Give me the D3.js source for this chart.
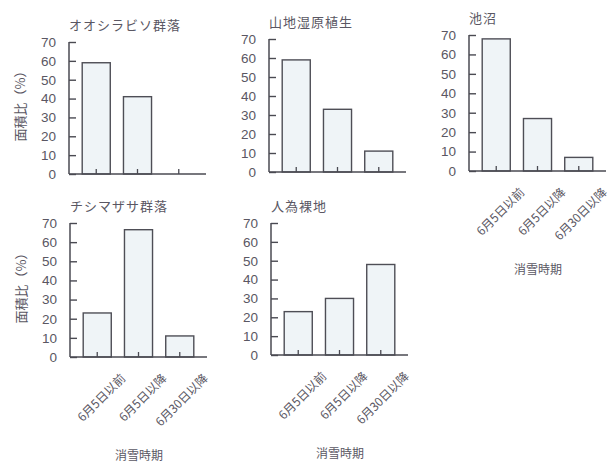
<!DOCTYPE html>
<html>
<head>
<meta charset="utf-8">
<script src="https://cdn.jsdelivr.net/npm/d3@7"></script>
<style>
  html, body { margin: 0; padding: 0; background: #fff; }
  svg { display: block; }
</style>
</head>
<body>
<svg id="chart" width="612" height="464"></svg>
<script>
// Snow-melt timing categories (x axis)
const categories = ["6月5日以前", "6月5日以降", "6月30日以降"];
// Vegetation types, one small panel each
const titles = ["オオシラビソ群落", "山地湿原植生", "池沼", "チシマザサ群落", "人為裸地"];
// Area ratio (%) per panel, in category order
const valuesOshirabiso = [59, 41, 0];
const valuesMoor = [59, 33, 11];
const valuesPond = [68, 27, 7];
const valuesSasa = [23, 66.5, 11];
const valuesBare = [23, 30, 48];
const seriesValues = [valuesOshirabiso, valuesMoor, valuesPond, valuesSasa, valuesBare];
const yTicks = [0, 10, 20, 30, 40, 50, 60, 70];
const yLabel = "面積比（%）";
const xLabel = "消雪時期";

// Panel placement: left axis x, zero line y, top (70) y, and which labels appear
const layout = [
  { x: 69,  y0: 174, y1: 42,  yTitle: true,  xTicks: false },
  { x: 269, y0: 172, y1: 39,  yTitle: false, xTicks: false },
  { x: 469, y0: 171, y1: 35,  yTitle: false, xTicks: true  },
  { x: 70,  y0: 357, y1: 223, yTitle: true,  xTicks: true  },
  { x: 271, y0: 355, y1: 223, yTitle: false, xTicks: true  }
];

const svg = d3.select("#chart");
const textColor = "#5a5763";
const axisColor = "#4a4a52";
const jpFont = "'Noto Sans CJK JP', 'Noto Sans', sans-serif";
const numFont = "'Liberation Sans', Arial, sans-serif";
const plotWidth = 137;

titles.forEach((title, i) => {
  const L = layout[i];
  const vals = seriesValues[i];
  const g = svg.append("g");

  const x = d3.scaleBand()
    .domain(categories)
    .range([L.x, L.x + plotWidth])
    .paddingInner(0.32)
    .paddingOuter(0.32);
  const y = d3.scaleLinear().domain([0, 70]).range([L.y0, L.y1]);

  // Bars
  g.selectAll("rect.bar")
    .data(categories.map((c, k) => ({ c, v: vals[k] })))
    .enter().append("rect")
    .attr("class", "bar")
    .attr("x", d => x(d.c))
    .attr("width", x.bandwidth())
    .attr("y", d => y(d.v))
    .attr("height", d => y(0) - y(d.v))
    .attr("fill", "#eff4f7")
    .attr("stroke", d => d.v > 0 ? "#4e4e56" : "none")
    .attr("stroke-width", 1.4);

  // Y axis with inward ticks
  const yAxis = d3.axisLeft(y)
    .tickValues(yTicks)
    .tickSize(-7)
    .tickPadding(13)
    .tickFormat(d3.format("d"));
  const ya = g.append("g")
    .attr("transform", `translate(${L.x},0)`)
    .call(yAxis);
  ya.select(".domain").attr("stroke", axisColor).attr("stroke-width", 1.5)
    .attr("d", `M0,${y(70)}V${y(0)}`);
  ya.selectAll(".tick line").attr("stroke", axisColor).attr("stroke-width", 1.4);
  ya.selectAll(".tick text")
    .attr("fill", textColor)
    .style("font-family", numFont)
    .style("font-size", "13.5px");

  // X baseline with small upward ticks at the bar centres
  const xAxis = d3.axisBottom(x).tickSize(-5).tickSizeOuter(0)
    .tickFormat(L.xTicks ? (d => d) : "");
  const xa = g.append("g")
    .attr("transform", `translate(0,${L.y0})`)
    .call(xAxis);
  xa.select(".domain").attr("stroke", axisColor).attr("stroke-width", 1.6)
    .attr("d", `M${L.x},0H${L.x + plotWidth}`);
  xa.selectAll(".tick line").attr("stroke", axisColor).attr("stroke-width", 1.3);
  xa.selectAll(".tick text")
    .attr("fill", textColor)
    .attr("text-anchor", "end")
    .attr("x", 0).attr("y", 0).attr("dy", 0)
    .attr("transform", "translate(29,22) rotate(-45)")
    .style("font-family", jpFont)
    .style("font-size", "12px");

  // Panel title
  g.append("text")
    .attr("x", L.x)
    .attr("y", L.y1 - 12)
    .attr("fill", textColor)
    .style("font-family", jpFont)
    .style("font-size", "13px")
    .style("letter-spacing", "1px")
    .text(title);

  if (L.yTitle) {
    g.append("text")
      .attr("transform", `translate(${L.x - 44},${(L.y0 + L.y1) / 2 - 5}) rotate(-90)`)
      .attr("text-anchor", "middle")
      .attr("fill", textColor)
      .style("font-family", jpFont)
      .style("font-size", "13px")
      .text(yLabel);
  }

  if (L.xTicks) {
    g.append("text")
      .attr("x", L.x + 69)
      .attr("y", L.y0 + 103)
      .attr("text-anchor", "middle")
      .attr("fill", textColor)
      .style("font-family", jpFont)
      .style("font-size", "12px")
      .text(xLabel);
  }
});
</script>
</body>
</html>
